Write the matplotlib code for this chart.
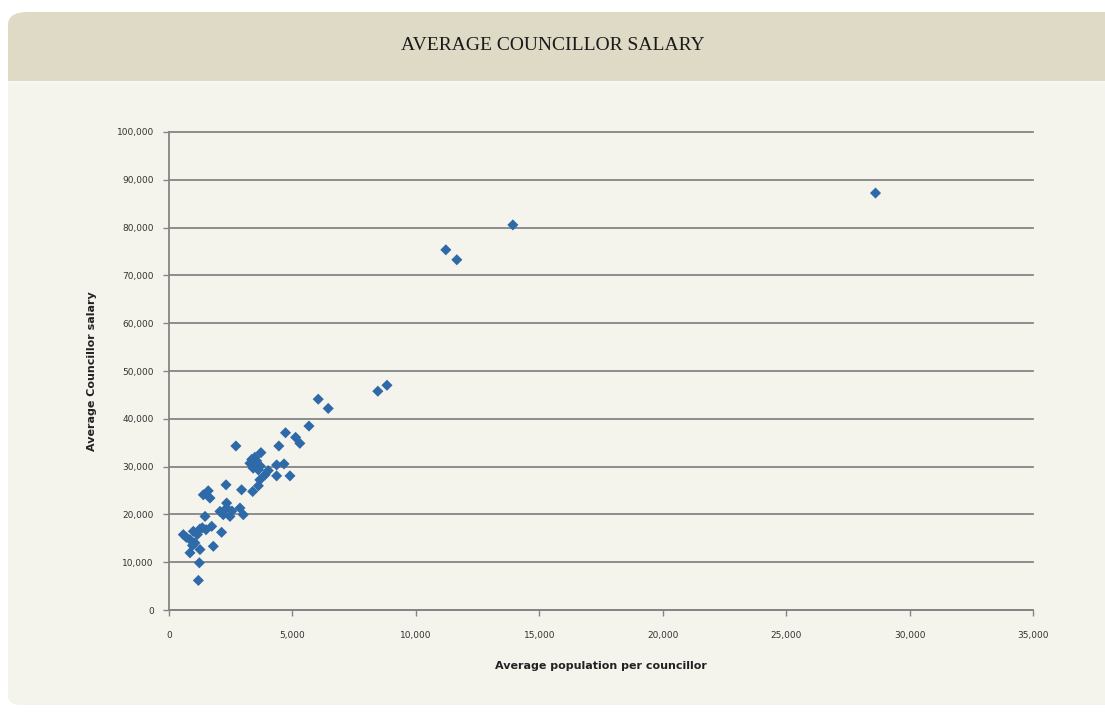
import matplotlib
matplotlib.use("Agg")
import matplotlib.pyplot as plt
from matplotlib.patches import FancyBboxPatch, Rectangle
from matplotlib.ticker import FuncFormatter, MultipleLocator

title = "AVERAGE COUNCILLOR SALARY"
x_label = "Average population per councillor"
y_label = "Average Councillor salary"

population = [
    6045, 6450, 5670, 4720, 5130, 5300, 2710, 4450, 3725,
    3480, 3280, 3410, 3620, 3550, 3350, 3700,
    4360, 4660, 4020, 4360, 4900, 3890, 3680, 3620, 3390, 2940,
    2310, 1390, 1590, 1660, 2335, 2335, 2065, 2200, 2875, 3010,
    2470, 1460, 2130, 1730, 1255, 985, 580, 850, 1050, 1255, 850,
    1795, 1230, 1190, 1500, 700, 950, 1350, 1150, 2550,
    8460, 8830, 11215, 11660, 13930, 28620,
]
salary = [
    44100, 42170, 38480, 37080, 36120, 34870, 34310, 34310, 32920,
    31960, 30700, 29670, 29300, 31200, 31500, 30100,
    30350, 30560, 29170, 28060, 28060, 28270, 27230, 25980, 24790, 25150,
    26190, 24100, 24940, 23420, 22370, 21330, 20630, 19940, 21330, 19940,
    19580, 19580, 16250, 17500, 16960, 16460, 15770, 14730, 14040, 12650, 11960,
    13330, 9875, 6190, 16800, 15200, 13500, 17200, 15800, 20700,
    45770, 47020, 75350, 73270, 80560, 87230,
]

fig = plt.figure(figsize=(11.05, 7.12), dpi=100)
fig.patch.set_facecolor("white")

W, H = 1105, 712
def fx(p):
    return p / W
def fy(p):
    return 1 - p / H

# panel body
body = FancyBboxPatch((fx(8), fy(705)), fx(1105 + 20 - 8), fy(40) - fy(705),
                      boxstyle="round,pad=0,rounding_size=0.012",
                      transform=fig.transFigure, facecolor="#f4f3ec",
                      edgecolor="none", zorder=-3)
fig.patches.append(body)
# header band
head = FancyBboxPatch((fx(8), fy(81)), fx(1105 + 20 - 8), fy(12) - fy(81),
                      boxstyle="round,pad=0,rounding_size=0.018",
                      transform=fig.transFigure, facecolor="#dedac5",
                      edgecolor="none", zorder=-2)
fig.patches.append(head)
fig.patches.append(Rectangle((fx(8), fy(81)), fx(1105 - 8), fy(60) - fy(81),
                             transform=fig.transFigure, facecolor="#dedac5",
                             edgecolor="none", zorder=-2))
fig.patches.append(Rectangle((fx(8), fy(83)), fx(1105 - 8), fy(81) - fy(83),
                             transform=fig.transFigure, facecolor="#f8f8f3",
                             edgecolor="none", zorder=-2))

fig.text(0.5, fy(46), title, ha="center", va="center",
         family="Liberation Serif", fontsize=14, color="#1a1a1a")

ax = fig.add_axes([fx(169), fy(610), fx(1033 - 169), fy(132) - fy(610)])
ax.set_facecolor("#f4f3ec")
ax.set_xlim(0, 35000)
ax.set_ylim(0, 100000)
ax.xaxis.set_major_locator(MultipleLocator(5000))
ax.yaxis.set_major_locator(MultipleLocator(10000))
fmt = FuncFormatter(lambda v, p: f"{int(v):,}")
ax.xaxis.set_major_formatter(fmt)
ax.yaxis.set_major_formatter(fmt)
ax.grid(axis="y", color="#858585", linewidth=1.3)
ax.set_axisbelow(True)
for gl in ax.get_ygridlines():
    gl.set_clip_on(False)
for s in ["top", "right"]:
    ax.spines[s].set_visible(False)
for s in ["left", "bottom"]:
    ax.spines[s].set_color("#858585")
    ax.spines[s].set_linewidth(1.3)
ax.tick_params(axis="both", colors="#858585", labelcolor="#333333",
               labelsize=6.5, length=4, width=1)
ax.tick_params(axis="x", pad=11)
ax.tick_params(axis="y", pad=7)

ax.scatter(population, salary, marker="D", s=32, color="#2f6aa8",
           edgecolors="none", zorder=3)

ax.set_xlabel(x_label, fontsize=8, fontweight="bold", color="#222222", labelpad=15)
ax.set_ylabel(y_label, fontsize=8, fontweight="bold", color="#222222", labelpad=14)

fig.savefig("out.png", dpi=100)
